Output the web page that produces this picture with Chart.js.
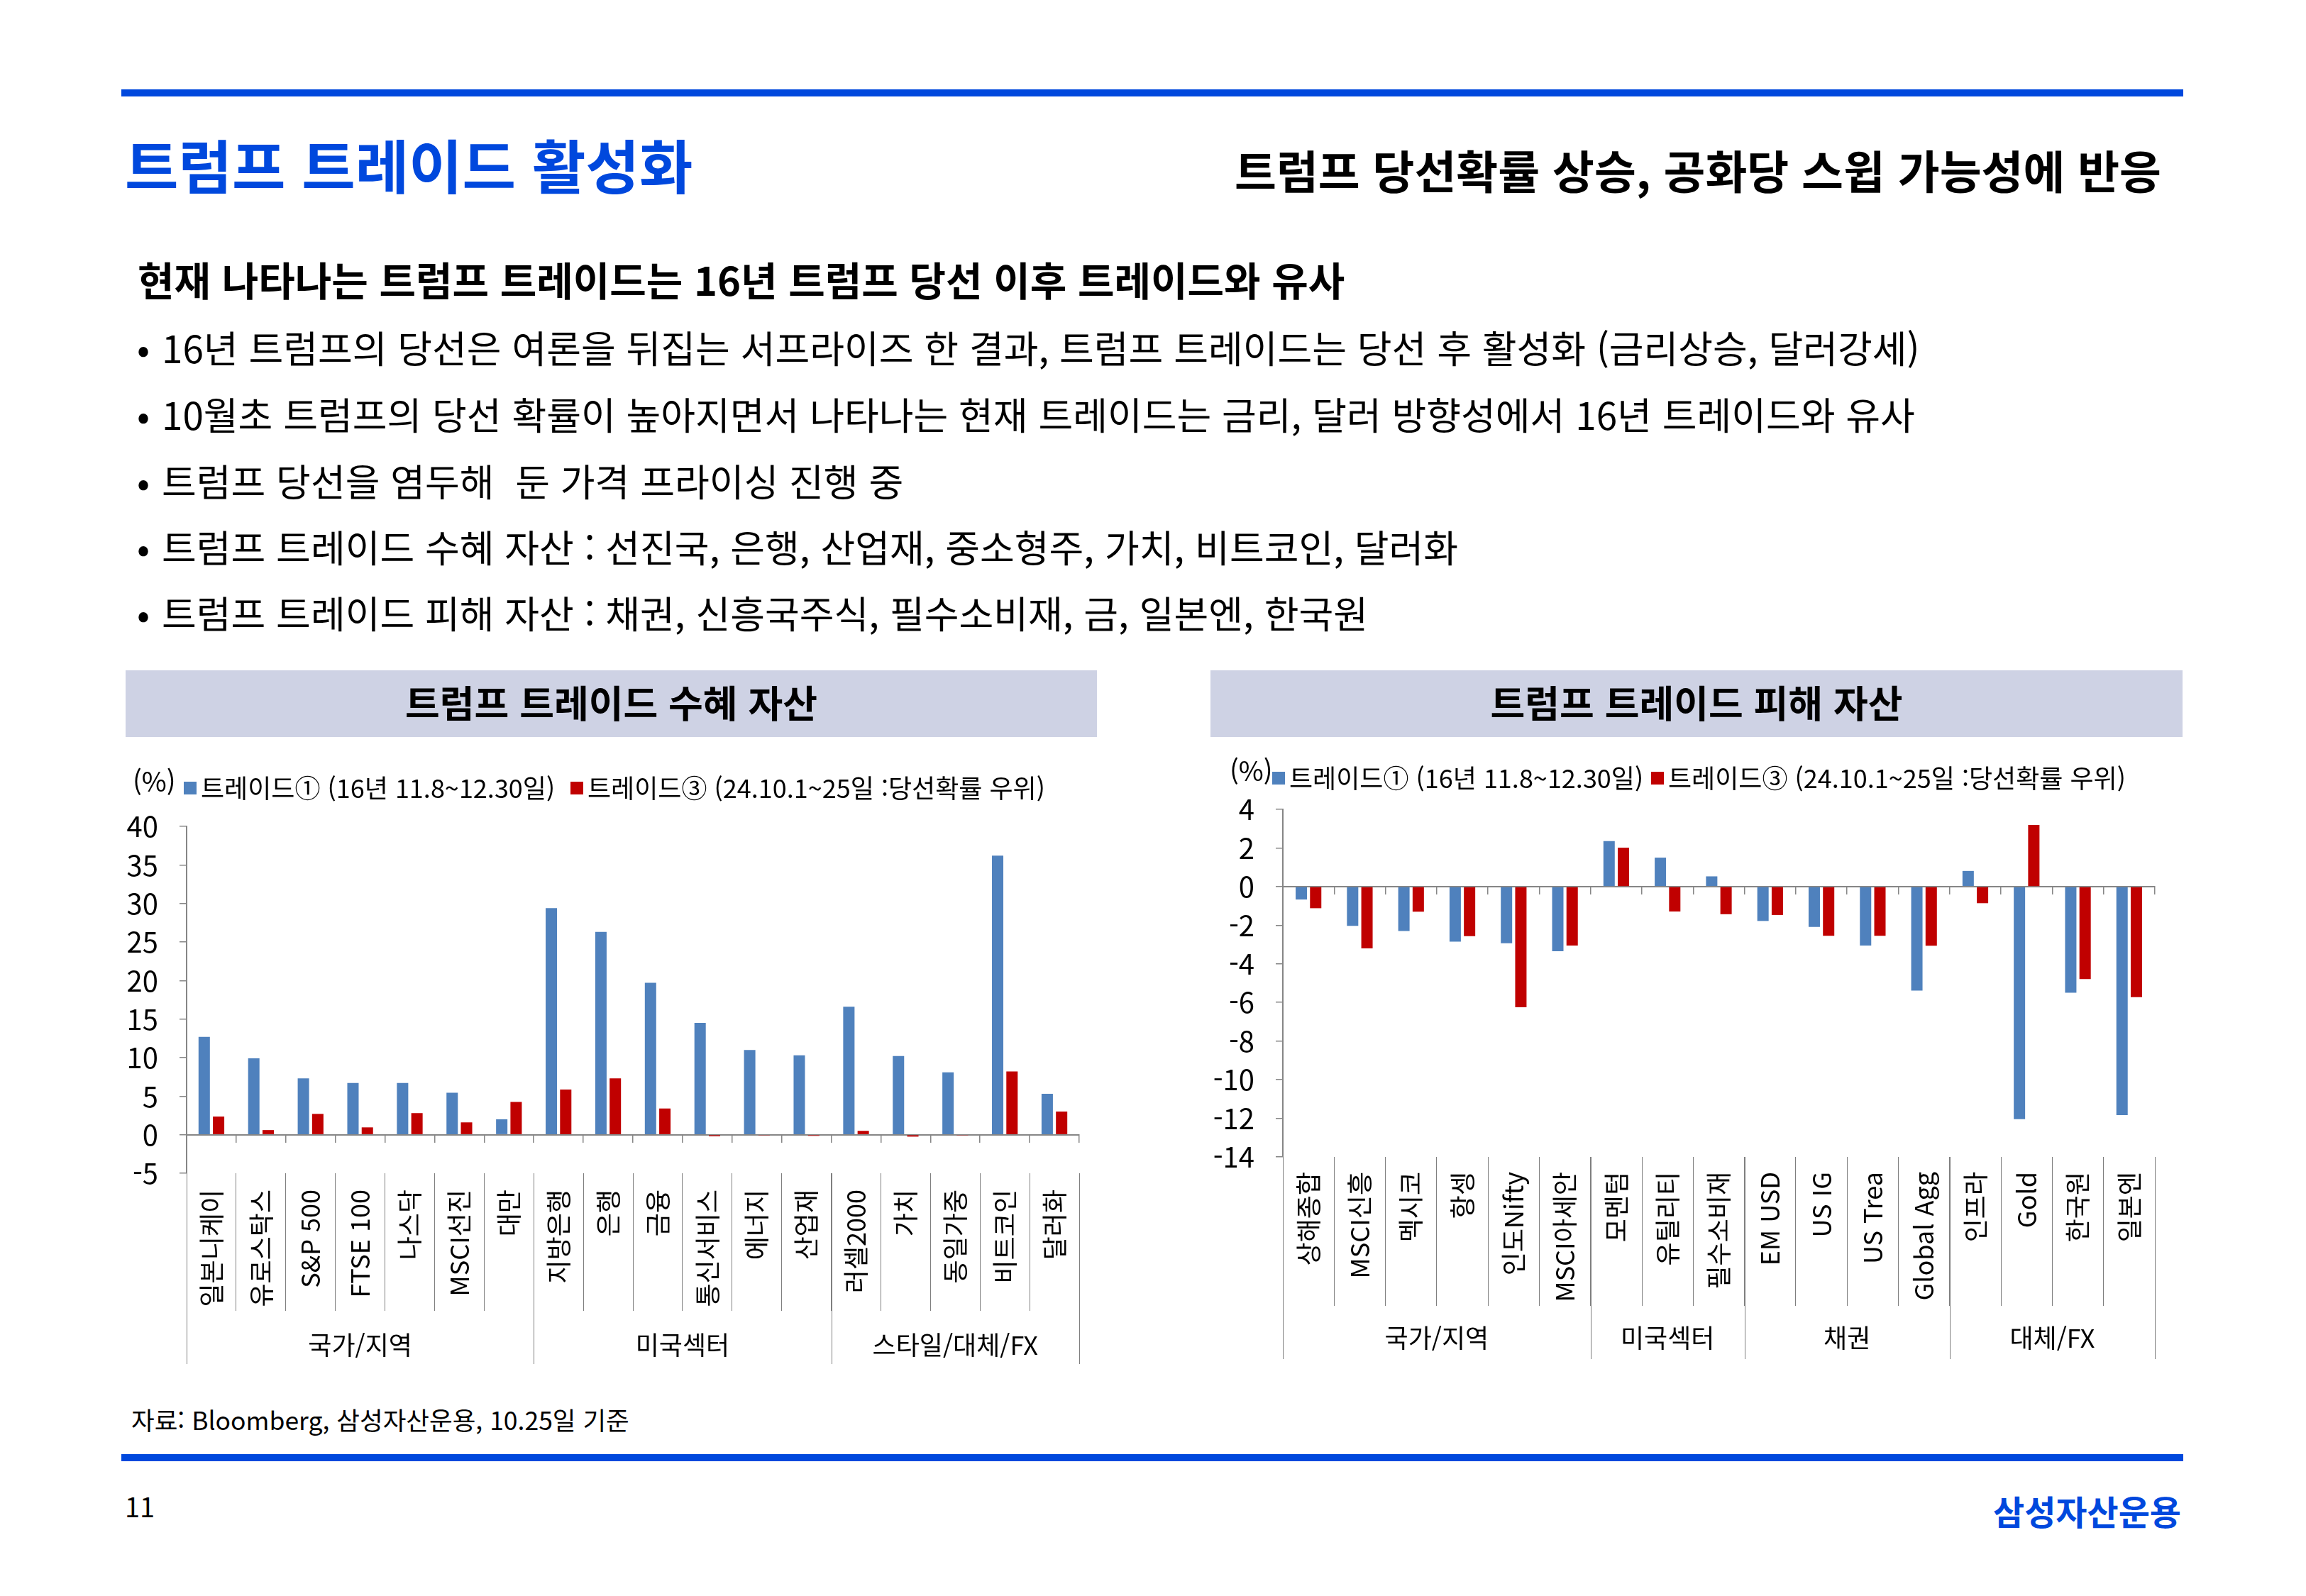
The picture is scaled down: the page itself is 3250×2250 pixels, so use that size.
<!DOCTYPE html>
<html lang="ko">
<head>
<meta charset="utf-8">
<title>트럼프 트레이드 활성화</title>
<script src="https://cdn.jsdelivr.net/npm/chart.js@4.4.1/dist/chart.umd.min.js"></script>
<style>
    html, body { margin: 0; padding: 0; background: #fff; }
    body {
        width: 3250px; height: 2250px; position: relative; overflow: hidden;
        font-family: "Noto Sans CJK KR", "Noto Sans", sans-serif; color: #000;
    }
    .abs { position: absolute; white-space: nowrap; line-height: 1; }
    .linea { position: absolute; left: 171px; width: 2906px; height: 10px; background: #0048dd; }
    .barra { position: absolute; top: 945px; height: 94px; background: #ced2e4; }
    .barra span {
        position: absolute; left: 0; right: 0; top: 18px; text-align: center;
        font-size: 53px; font-weight: 700; line-height: 1;
    }
    .vineta { font-size: 53px; }
    .vineta b { position: absolute; left: 0; font-weight: 400; }
    .vineta span { position: absolute; left: 35px; }
    canvas { position: absolute; }
</style>
</head>
<body>

<div class="linea" style="top:126px"></div>
<div class="abs" style="left:176px; top:190px; font-size:82px; font-weight:700; color:#0048dd">트럼프 트레이드 활성화</div>
<div class="abs" style="right:204px; top:206px; font-size:64px; font-weight:700">트럼프 당선확률 상승, 공화당 스윕 가능성에 반응</div>

<div class="abs" style="left:194px; top:365px; font-size:56px; font-weight:700">현재 나타나는 트럼프 트레이드는 16년 트럼프 당선 이후 트레이드와 유사</div>
<div class="abs vineta" style="left:193px; top:463px"><b>•</b><span>16년 트럼프의 당선은 여론을 뒤집는 서프라이즈 한 결과, 트럼프 트레이드는 당선 후 활성화 (금리상승, 달러강세)</span></div>
<div class="abs vineta" style="left:193px; top:557px"><b>•</b><span>10월초 트럼프의 당선 확률이 높아지면서 나타나는 현재 트레이드는 금리, 달러 방향성에서 16년 트레이드와 유사</span></div>
<div class="abs vineta" style="left:193px; top:651px"><b>•</b><span>트럼프 당선을 염두해&nbsp; 둔 가격 프라이싱 진행 중</span></div>
<div class="abs vineta" style="left:193px; top:744px"><b>•</b><span>트럼프 트레이드 수혜 자산 : 선진국, 은행, 산업재, 중소형주, 가치, 비트코인, 달러화</span></div>
<div class="abs vineta" style="left:193px; top:837px"><b>•</b><span>트럼프 트레이드 피해 자산 : 채권, 신흥국주식, 필수소비재, 금, 일본엔, 한국원</span></div>

<div class="barra" style="left:177px; width:1369px"><span>트럼프 트레이드 수혜 자산</span></div>
<div class="barra" style="left:1706px; width:1370px"><span>트럼프 트레이드 피해 자산</span></div>

<canvas id="graficoSuhye" width="1380" height="870" style="left:170px; top:1070px; width:1380px; height:870px"></canvas>
<canvas id="graficoPihae" width="1380" height="890" style="left:1700px; top:1050px; width:1380px; height:890px"></canvas>

<div class="abs" style="left:185px; top:1983px; font-size:35.5px">자료: Bloomberg, 삼성자산운용, 10.25일 기준</div>
<div class="linea" style="top:2050px"></div>
<div class="abs" style="left:176px; top:2104px; font-size:38px; font-weight:400">11</div>
<div class="abs" style="right:176px; top:2105px; font-size:48px; font-weight:700; color:#0048dd">삼성자산운용</div>

<script>
// 데이터: 트럼프 트레이드 수혜 자산 (%)
const suhyeLabels = ['일본니케이', '유로스탁스', 'S&P 500', 'FTSE 100', '나스닥', 'MSCI선진', '대만',
    '지방은행', '은행', '금융', '통신서비스', '에너지', '산업재',
    '러셀2000', '가치', '동일가중', '비트코인', '달러화'];
const suhyeTrade1 = [12.7, 9.9, 7.3, 6.7, 6.7, 5.45, 2.0, 29.4, 26.3, 19.7, 14.5, 11.0, 10.3, 16.6, 10.2, 8.1, 36.2, 5.3];
const suhyeTrade3 = [2.35, 0.6, 2.7, 0.95, 2.8, 1.6, 4.25, 5.85, 7.3, 3.4, -0.2, -0.1, -0.15, 0.5, -0.25, -0.1, 8.2, 3.0];
const suhyeGroups = ['국가/지역', '미국섹터', '스타일/대체/FX'];
const suhyeGroupSizes = [7, 6, 5];
const suhyeTicks = [-5, 0, 5, 10, 15, 20, 25, 30, 35, 40];

// 데이터: 트럼프 트레이드 피해 자산 (%)
const pihaeLabels = ['상해종합', 'MSCI신흥', '멕시코', '항셍', '인도Nifty', 'MSCI아세안',
    '모멘텀', '유틸리티', '필수소비재',
    'EM USD', 'US IG', 'US Trea', 'Global Agg',
    '인프라', 'Gold', '한국원', '일본엔'];
const pihaeTrade1 = [-0.67, -2.03, -2.3, -2.85, -2.93, -3.35, 2.36, 1.5, 0.53, -1.78, -2.09, -3.05, -5.39, 0.81, -12.04, -5.5, -11.83];
const pihaeTrade3 = [-1.12, -3.2, -1.3, -2.57, -6.25, -3.05, 2.02, -1.29, -1.43, -1.47, -2.55, -2.55, -3.06, -0.86, 3.19, -4.79, -5.73];
const pihaeGroups = ['국가/지역', '미국섹터', '채권', '대체/FX'];
const pihaeGroupSizes = [6, 3, 4, 4];
const pihaeTicks = [-14, -12, -10, -8, -6, -4, -2, 0, 2, 4];

const seriesNames = ['트레이드① (16년 11.8~12.30일)', '트레이드③ (24.10.1~25일 :당선확률 우위)'];

// 색상
const COLORES = {
    azul: '#4f81bd',
    rojo: '#c00000',
    eje: '#868686',
    separador: '#7f7f7f'
};
const FUENTE = '"Noto Sans CJK KR", "Noto Sans", sans-serif';

Chart.defaults.font.family = FUENTE;
Chart.defaults.color = '#000';

// 범례 한 줄: (%) + 계열 표시
const legendRow = {
    id: 'legendRow',
    afterDraw(chart, args, opts) {
        const ctx = chart.ctx;
        ctx.save();
        ctx.textBaseline = 'middle';
        ctx.fillStyle = '#000';
        ctx.font = opts.unitSize + 'px ' + FUENTE;
        ctx.fillText('(%)', opts.unitX, opts.unitY);
        ctx.font = opts.size + 'px ' + FUENTE;
        chart.data.datasets.forEach((ds, i) => {
            const mx = opts.markerX[i];
            ctx.fillStyle = ds.backgroundColor;
            ctx.fillRect(mx, opts.y - 9, 18, 18);
            ctx.fillStyle = '#000';
            ctx.fillText(ds.label, mx + 24, opts.y);
        });
        ctx.restore();
    }
};

// 그룹 구분선과 그룹 이름 (아래쪽 두번째 줄)
const groupRow = {
    id: 'groupRow',
    afterDraw(chart, args, opts) {
        const ctx = chart.ctx;
        const xs = chart.scales.x;
        const base = chart.chartArea.bottom;
        ctx.save();
        ctx.strokeStyle = COLORES.separador;
        ctx.lineWidth = 1;
        ctx.fillStyle = '#000';
        ctx.font = opts.size + 'px ' + FUENTE;
        ctx.textAlign = 'center';
        ctx.textBaseline = 'middle';
        let start = 0;
        const edges = [0];
        opts.sizes.forEach(n => { start += n; edges.push(start); });
        edges.forEach(i => {
            const px = Math.round(xs.getPixelForValue(i - 0.5)) + 0.5;
            ctx.beginPath();
            ctx.moveTo(px, base);
            ctx.lineTo(px, base + opts.lineLength);
            ctx.stroke();
        });
        opts.names.forEach((name, g) => {
            const a = xs.getPixelForValue(edges[g] - 0.5);
            const b = xs.getPixelForValue(edges[g + 1] - 0.5);
            ctx.fillText(name, (a + b) / 2, base + opts.labelOffset);
        });
        ctx.restore();
    }
};

function crearGrafico(canvasId, labels, serie1, serie2, ticksY, groups, groupSizes, cfg) {
    const ctx = document.getElementById(canvasId).getContext('2d');
    return new Chart(ctx, {
        type: 'bar',
        data: {
            labels: labels,
            datasets: [
                {
                    label: seriesNames[0],
                    data: serie1,
                    backgroundColor: COLORES.azul,
                    categoryPercentage: cfg.catPct,
                    barPercentage: 0.79
                },
                {
                    label: seriesNames[1],
                    data: serie2,
                    backgroundColor: COLORES.rojo,
                    categoryPercentage: cfg.catPct,
                    barPercentage: 0.79
                }
            ]
        },
        plugins: [legendRow, groupRow],
        options: {
            responsive: false,
            animation: false,
            layout: { padding: { top: cfg.padTop, right: cfg.padRight, left: 0, bottom: 0 } },
            plugins: {
                legend: { display: false },
                tooltip: { enabled: false },
                legendRow: cfg.legend,
                groupRow: {
                    names: groups,
                    sizes: groupSizes,
                    size: 36,
                    lineLength: cfg.groupLine,
                    labelOffset: cfg.groupLabel
                }
            },
            scales: {
                x: {
                    type: 'category',
                    position: 'bottom',
                    offset: true,
                    grid: {
                        offset: true,
                        drawOnChartArea: false,
                        drawTicks: true,
                        tickLength: cfg.sepLength,
                        color: COLORES.separador,
                        lineWidth: 1
                    },
                    border: { display: false },
                    ticks: {
                        autoSkip: false,
                        minRotation: 90,
                        maxRotation: 90,
                        padding: cfg.labelPad,
                        font: { size: 36 }
                    },
                    afterFit: s => { s.height = cfg.xHeight; }
                },
                cero: {
                    type: 'category',
                    axis: 'x',
                    position: { y: 0 },
                    offset: true,
                    grid: {
                        offset: true,
                        drawOnChartArea: false,
                        drawTicks: true,
                        tickLength: 10,
                        color: COLORES.eje,
                        lineWidth: 1.5
                    },
                    border: { color: COLORES.eje, width: 2 },
                    ticks: { display: false },
                    afterFit: s => { s.height = 0; }
                },
                y: {
                    type: 'linear',
                    position: 'left',
                    min: ticksY[0],
                    max: ticksY[ticksY.length - 1],
                    afterBuildTicks: s => { s.ticks = ticksY.map(v => ({ value: v })); },
                    grid: {
                        drawOnChartArea: false,
                        drawTicks: true,
                        tickLength: 10,
                        color: COLORES.eje,
                        lineWidth: 1.5
                    },
                    border: { color: COLORES.eje, width: 2 },
                    ticks: { padding: 30, font: { size: 40 } },
                    afterFit: s => { s.width = cfg.yWidth; }
                }
            }
        }
    });
}

crearGrafico('graficoSuhye', suhyeLabels, suhyeTrade1, suhyeTrade3, suhyeTicks, suhyeGroups, suhyeGroupSizes, {
    padTop: 95, padRight: 29, yWidth: 93, xHeight: 286, catPct: 0.58,
    sepLength: 194, labelPad: -171, groupLine: 269, groupLabel: 242,
    legend: { size: 36, unitSize: 38, unitX: 17, unitY: 32, y: 41, markerX: [89, 634] }
});

crearGrafico('graficoPihae', pihaeLabels, pihaeTrade1, pihaeTrade3, pihaeTicks, pihaeGroups, pihaeGroupSizes, {
    padTop: 91, padRight: 43, yWidth: 108, xHeight: 309, catPct: 0.56,
    sepLength: 210, labelPad: -189, groupLine: 285, groupLabel: 255,
    legend: { size: 36, unitSize: 38, unitX: 33, unitY: 37, y: 47, markerX: [93, 627] }
});
</script>
</body>
</html>
